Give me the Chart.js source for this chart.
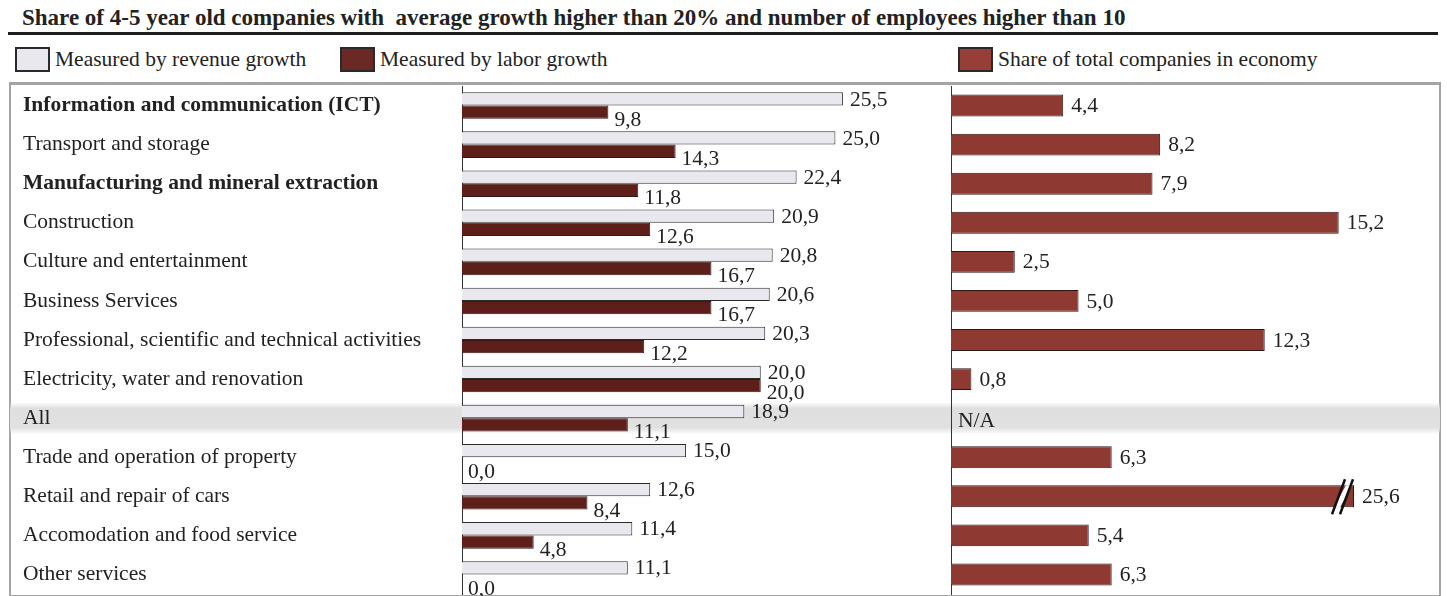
<!DOCTYPE html>
<html>
<head>
<meta charset="utf-8">
<script src="https://cdn.jsdelivr.net/npm/chart.js@4.4.0/dist/chart.umd.min.js"></script>
<style>
  body { margin: 0; background: #fff; font-family: 'Liberation Serif', 'Times New Roman', serif; color: #222; }
  #page { position: relative; width: 1447px; height: 596px; overflow: hidden; }
  .title { position: absolute; left: 22px; top: 5px; font-size: 23px; line-height: 26px; font-weight: bold; white-space: pre; }
  .rule { position: absolute; left: 8px; top: 32px; width: 1430px; height: 3px; background: #1e1e1e; }
  .key { position: absolute; top: 47px; height: 25px; font-size: 21.5px; line-height: 25px; white-space: nowrap; }
  .key i { display: inline-block; width: 31px; height: 21px; border: 2px solid #2a2a2a; vertical-align: top; margin-right: 5px; }
  .frame { position: absolute; left: 9px; top: 82px; width: 1428px; height: 510px; border: 2px solid #a4a4a4; border-top-width: 3px; }
  #growthChart { position: absolute; left: 10px; top: 86px; }
  #shareChart { position: absolute; left: 945px; top: 86px; }
</style>
</head>
<body>
<div id="page">
  <div class="title">Share of 4-5 year old companies with  average growth higher than 20% and number of employees higher than 10</div>
  <div class="rule"></div>
  <div class="key" style="left:15px"><i style="background:#e8e8ee"></i>Measured by revenue growth</div>
  <div class="key" style="left:340px"><i style="background:#6a2924"></i>Measured by labor growth</div>
  <div class="key" style="left:958px"><i style="background:#963e37"></i>Share of total companies in economy</div>
  <div class="frame"></div>
  <canvas id="growthChart" width="935" height="510"></canvas>
  <canvas id="shareChart" width="495" height="510"></canvas>
</div>
<script>
const categories = [
  'Information and communication (ICT)',
  'Transport and storage',
  'Manufacturing and mineral extraction',
  'Construction',
  'Culture and entertainment',
  'Business Services',
  'Professional, scientific and technical activities',
  'Electricity, water and renovation',
  'All',
  'Trade and operation of property',
  'Retail and repair of cars',
  'Accomodation and food service',
  'Other services'
];
const revenueGrowth = [25.5, 25.0, 22.4, 20.9, 20.8, 20.6, 20.3, 20.0, 18.9, 15.0, 12.6, 11.4, 11.1];
const laborGrowth = [9.8, 14.3, 11.8, 12.6, 16.7, 16.7, 12.2, 20.0, 11.1, 0.0, 8.4, 4.8, 0.0];
const shareOfCompanies = [4.4, 8.2, 7.9, 15.2, 2.5, 5.0, 12.3, 0.8, null, 6.3, 25.6, 5.4, 6.3];
const boldRows = ['Information and communication (ICT)', 'Manufacturing and mineral extraction'];
const highlightRow = 'All';

const FONT = 'Liberation Serif';
const SIZE = 21.5;
const fmt = v => v.toFixed(1).replace('.', ',');

// grey band behind the "All" row, across the whole canvas
const highlightBand = {
  id: 'highlightBand',
  beforeDraw(chart) {
    const y = chart.scales.y.getPixelForValue(categories.indexOf(highlightRow));
    const ctx = chart.ctx;
    const g = ctx.createLinearGradient(0, y - 16, 0, y + 16);
    g.addColorStop(0, 'rgba(222,222,222,0)');
    g.addColorStop(0.2, '#dfdfdf');
    g.addColorStop(0.8, '#e1e1e1');
    g.addColorStop(1, 'rgba(222,222,222,0)');
    ctx.save();
    ctx.fillStyle = g;
    ctx.fillRect(0, y - 16, chart.width, 32);
    ctx.restore();
  }
};

// value labels next to the bars, with decimal commas
const valueLabels = {
  id: 'valueLabels',
  afterDatasetsDraw(chart, args, opts) {
    const ctx = chart.ctx;
    const area = chart.chartArea;
    ctx.save();
    ctx.font = SIZE + 'px "' + FONT + '"';
    ctx.fillStyle = '#222';
    ctx.textBaseline = 'middle';
    chart.data.datasets.forEach((ds, di) => {
      const meta = chart.getDatasetMeta(di);
      const off = opts.offsets[di];
      meta.data.forEach((bar, i) => {
        const v = ds.data[i];
        if (v === null) {
          ctx.fillText('N/A', area.left + 7, chart.scales.y.getPixelForValue(i) + 3);
          return;
        }
        const x = Math.min(bar.x, area.right);
        ctx.fillText(fmt(v), x + off.dx, bar.y + off.dy);
      });
    });
    ctx.restore();
  }
};

// "//" break marks on bars running past the end of the axis
const breakMarks = {
  id: 'breakMarks',
  afterDatasetsDraw(chart) {
    const ctx = chart.ctx;
    const r = chart.chartArea.right;
    const max = chart.scales.x.max;
    const meta = chart.getDatasetMeta(0);
    ctx.save();
    meta.data.forEach((bar, i) => {
      if (shareOfCompanies[i] === null || shareOfCompanies[i] <= max) return;
      const top = bar.y - bar.height / 2, bot = bar.y + bar.height / 2;
      ctx.strokeStyle = '#2e1614';
      ctx.lineWidth = 1;
      ctx.beginPath();
      ctx.moveTo(r - 0.5, top);
      ctx.lineTo(r - 0.5, bot);
      ctx.stroke();
      // white gap between the two slashes
      ctx.fillStyle = '#fff';
      ctx.beginPath();
      ctx.moveTo(r - 20, bot);
      ctx.lineTo(r - 8, top);
      ctx.lineTo(r - 2, top);
      ctx.lineTo(r - 14, bot);
      ctx.closePath();
      ctx.fill();
      ctx.strokeStyle = '#111';
      ctx.lineWidth = 2.5;
      ctx.beginPath();
      ctx.moveTo(r - 22, bar.y + 18);
      ctx.lineTo(r - 9, bar.y - 17);
      ctx.moveTo(r - 14, bar.y + 18);
      ctx.lineTo(r - 1, bar.y - 17);
      ctx.stroke();
    });
    ctx.restore();
  }
};

// category axis without the half-label padding Chart.js adds at both ends
const tightAxis = width => scale => {
  if (width !== undefined) scale.width = width;
  scale.paddingTop = 0;
  scale.paddingBottom = 0;
};

Chart.defaults.font.family = FONT;
Chart.defaults.color = '#222';

new Chart(document.getElementById('growthChart'), {
  type: 'bar',
  data: {
    labels: categories,
    datasets: [{
      label: 'Measured by revenue growth',
      data: revenueGrowth,
      backgroundColor: '#e8e8ee',
      borderColor: '#2b2b2b',
      borderWidth: 1,
      borderSkipped: 'start'
    }, {
      label: 'Measured by labor growth',
      data: laborGrowth,
      backgroundColor: '#5e1f1b',
      borderColor: '#3a1512',
      borderWidth: 1,
      borderSkipped: 'start'
    }]
  },
  options: {
    indexAxis: 'y',
    responsive: false,
    animation: false,
    datasets: { bar: { categoryPercentage: 0.68, barPercentage: 1.0 } },
    layout: { padding: { left: 13, right: 5, top: 0, bottom: 2 } },
    plugins: {
      legend: { display: false },
      tooltip: { enabled: false },
      valueLabels: { offsets: [{ dx: 7, dy: 1 }, { dx: 6, dy: 8 }] }
    },
    scales: {
      x: { display: false, min: 0, max: 32 },
      y: {
        grid: { display: false, drawTicks: false },
        border: { display: true, color: '#333', width: 1 },
        ticks: {
          crossAlign: 'far',
          padding: 0,
          color: '#222',
          font: ctx => ({ family: FONT, size: SIZE, weight: boldRows.includes(categories[ctx.index]) ? 'bold' : 'normal' })
        },
        afterFit: tightAxis(439)
      }
    }
  },
  plugins: [highlightBand, valueLabels]
});

new Chart(document.getElementById('shareChart'), {
  type: 'bar',
  data: {
    labels: categories,
    datasets: [{
      label: 'Share of total companies in economy',
      data: shareOfCompanies,
      backgroundColor: '#8e3a32',
      borderColor: '#2e1614',
      borderWidth: 1,
      borderSkipped: 'start',
      clip: 0
    }]
  },
  options: {
    indexAxis: 'y',
    responsive: false,
    animation: false,
    datasets: { bar: { categoryPercentage: 1.0, barPercentage: 0.56 } },
    layout: { padding: { left: 6, right: 86, top: 0, bottom: 2 } },
    plugins: {
      legend: { display: false },
      tooltip: { enabled: false },
      valueLabels: { offsets: [{ dx: 8, dy: 1 }] }
    },
    scales: {
      x: { display: false, min: 0, max: 15.8 },
      y: {
        grid: { display: false, drawTicks: false },
        border: { display: true, color: '#333', width: 1 },
        ticks: { display: false },
        afterFit: tightAxis()
      }
    }
  },
  plugins: [highlightBand, breakMarks, valueLabels]
});
</script>
</body>
</html>
